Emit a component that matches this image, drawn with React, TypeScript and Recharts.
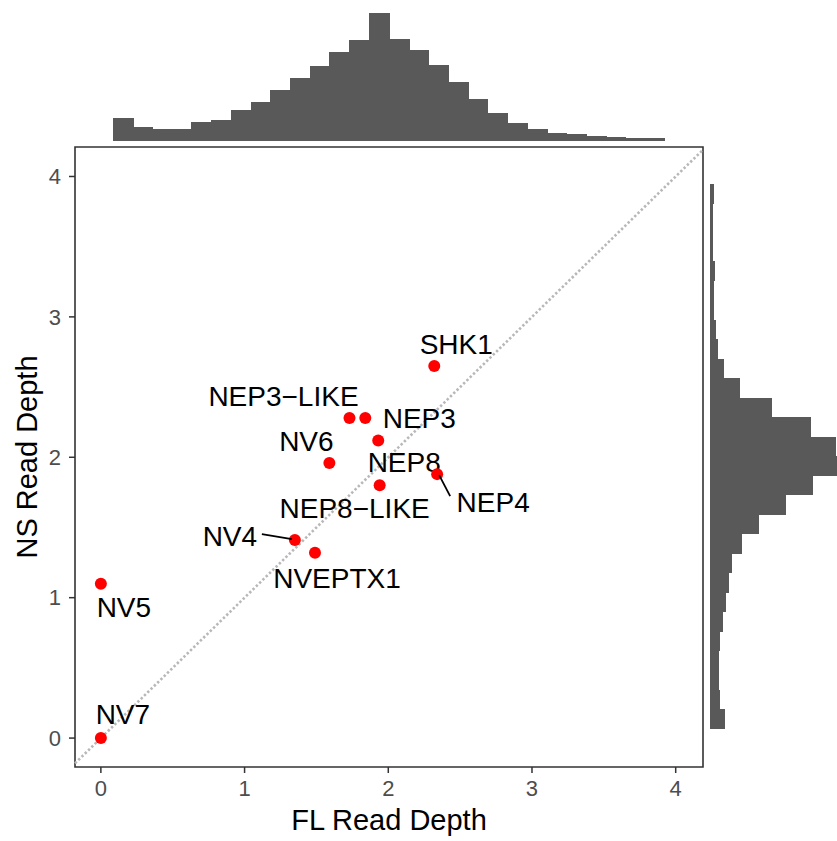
import React from 'react';
import {
  ScatterChart,
  Scatter,
  BarChart,
  Bar,
  XAxis,
  YAxis,
  ReferenceLine,
  ReferenceArea,
} from 'recharts';

// gene points (FL read depth vs NS read depth)
const genes = ['SHK1', 'NEP3\u2212LIKE', 'NEP3', 'NEP8', 'NV6', 'NEP4', 'NEP8\u2212LIKE', 'NV4', 'NVEPTX1', 'NV5', 'NV7'];
const flDepth = [2.32, 1.73, 1.84, 1.93, 1.59, 2.34, 1.94, 1.35, 1.49, 0, 0];
const nsDepth = [2.65, 2.28, 2.28, 2.12, 1.96, 1.88, 1.80, 1.41, 1.32, 1.10, 0];

// marginal histograms (counts per bin)
const flCounts = [23, 14, 12, 12, 19, 21, 31, 39, 51, 63, 75, 89, 101, 128, 102, 91, 76, 59, 42, 28, 18, 12, 8, 7, 5, 4, 3, 3];
// from lowest to highest NS bin
const nsCounts = [14, 9, 8, 8, 9, 12, 15, 18, 21, 31, 48, 75, 102, 135, 125, 100, 61, 29, 13, 7, 5, 3, 3, 4, 2, 2, 2, 3];

const axisTicks = [0, 1, 2, 3, 4];

const X_DOMAIN: [number, number] = [-0.18, 4.19];
const Y_DOMAIN: [number, number] = [-0.206, 4.21];

const FONT = "'Liberation Sans', Arial, Helvetica, sans-serif";
const HIST_FILL = '#595959';

// label placement (pixels relative to the point), like ggrepel output
const labelPos: Record<string, { dx: number; dy: number; seg?: [number, number, number, number] }> = {
  SHK1: { dx: 22, dy: -22 },
  'NEP3\u2212LIKE': { dx: -66, dy: -22 },
  NEP3: { dx: 54, dy: 0 },
  NEP8: { dx: 26, dy: 22 },
  NV6: { dx: -23, dy: -22 },
  NEP4: { dx: 56, dy: 28, seg: [2, 1, 13, 22] },
  'NEP8\u2212LIKE': { dx: -25, dy: 23 },
  NV4: { dx: -65, dy: -4, seg: [-3, -1, -33, -6] },
  NVEPTX1: { dx: 22, dy: 25 },
  NV5: { dx: 23, dy: 23 },
  NV7: { dx: 22, dy: -24 },
};

const points = genes.map((name, i) => ({ name, x: flDepth[i], y: nsDepth[i] }));
const topData = flCounts.map((count, i) => ({ bin: i, count }));
const rightData = nsCounts.map((count, i) => ({ bin: i, count })).reverse();

const GenePoint = (props: any) => {
  const { cx, cy, payload } = props;
  const pos = labelPos[payload.name] || { dx: 0, dy: -22 };
  return (
    <g>
      <circle cx={cx} cy={cy} r={6} fill="#ff0000" />
      {pos.seg && (
        <line
          x1={cx + pos.seg[0]}
          y1={cy + pos.seg[1]}
          x2={cx + pos.seg[2]}
          y2={cy + pos.seg[3]}
          stroke="#000"
          strokeWidth={1.8}
        />
      )}
      <text
        x={cx + pos.dx}
        y={cy + pos.dy + 10}
        textAnchor="middle"
        fontSize={28}
        fontFamily={FONT}
        fill="#000"
      >
        {payload.name}
      </text>
    </g>
  );
};

export default function App() {
  const tickStyle = { fill: '#4d4d4d', fontSize: 22, fontFamily: FONT };
  return (
    <div
      style={{
        position: 'absolute',
        left: 0,
        top: 0,
        width: 837,
        height: 841,
        overflow: 'hidden',
        background: '#fff',
        fontFamily: FONT,
      }}
    >
      {/* top marginal histogram */}
      <div style={{ position: 'absolute', left: 113, top: 13, shapeRendering: 'crispEdges' }}>
        <BarChart width={552} height={128} data={topData} margin={{ top: 0, right: 0, bottom: 0, left: 0 }} barCategoryGap={0}>
          <XAxis dataKey="bin" hide />
          <YAxis hide domain={[0, 128]} />
          <Bar dataKey="count" fill={HIST_FILL} stroke={HIST_FILL} strokeWidth={1} isAnimationActive={false} />
        </BarChart>
      </div>

      {/* right marginal histogram */}
      <div style={{ position: 'absolute', left: 710, top: 184, shapeRendering: 'crispEdges' }}>
        <BarChart
          width={135}
          height={545}
          data={rightData}
          layout="vertical"
          margin={{ top: 0, right: 0, bottom: 0, left: 0 }}
          barCategoryGap={0}
        >
          <XAxis type="number" hide domain={[0, 135]} />
          <YAxis type="category" dataKey="bin" hide />
          <Bar dataKey="count" fill={HIST_FILL} stroke={HIST_FILL} strokeWidth={1} isAnimationActive={false} />
        </BarChart>
      </div>

      {/* main scatter */}
      <div style={{ position: 'absolute', left: 0, top: 0 }}>
        <ScatterChart width={837} height={841} margin={{ top: 147, right: 134, bottom: 0, left: 0 }}>
          <XAxis
            type="number"
            dataKey="x"
            domain={X_DOMAIN}
            ticks={axisTicks}
            allowDataOverflow
            height={74}
            tick={tickStyle}
            tickSize={6}
            tickMargin={7}
            tickLine={{ stroke: '#333', strokeWidth: 1.5 }}
            axisLine={false}
          />
          <YAxis
            type="number"
            dataKey="y"
            domain={Y_DOMAIN}
            ticks={axisTicks}
            allowDataOverflow
            width={75}
            tick={tickStyle}
            tickSize={6}
            tickMargin={8}
            tickLine={{ stroke: '#333', strokeWidth: 1.5 }}
            axisLine={false}
          />
          <ReferenceLine
            segment={[
              { x: -0.18, y: -0.18 },
              { x: 4.19, y: 4.19 },
            ]}
            stroke="#b8b8b8"
            strokeWidth={2.6}
            strokeDasharray="2.4 2.2"
          />
          <ReferenceArea
            x1={X_DOMAIN[0]}
            x2={X_DOMAIN[1]}
            y1={Y_DOMAIN[0]}
            y2={Y_DOMAIN[1]}
            fill="none"
            fillOpacity={0}
            stroke="#333"
            strokeWidth={1.6}
          />
          <Scatter data={points} shape={GenePoint} isAnimationActive={false} />
        </ScatterChart>
      </div>

      {/* axis titles */}
      <div
        style={{
          position: 'absolute',
          left: 389,
          top: 820,
          transform: 'translate(-50%, -50%)',
          fontSize: 29,
          whiteSpace: 'nowrap',
          color: '#000',
        }}
      >
        FL Read Depth
      </div>
      <div
        style={{
          position: 'absolute',
          left: 27,
          top: 457,
          transform: 'translate(-50%, -50%) rotate(-90deg)',
          fontSize: 29,
          whiteSpace: 'nowrap',
          color: '#000',
        }}
      >
        NS Read Depth
      </div>
    </div>
  );
}
